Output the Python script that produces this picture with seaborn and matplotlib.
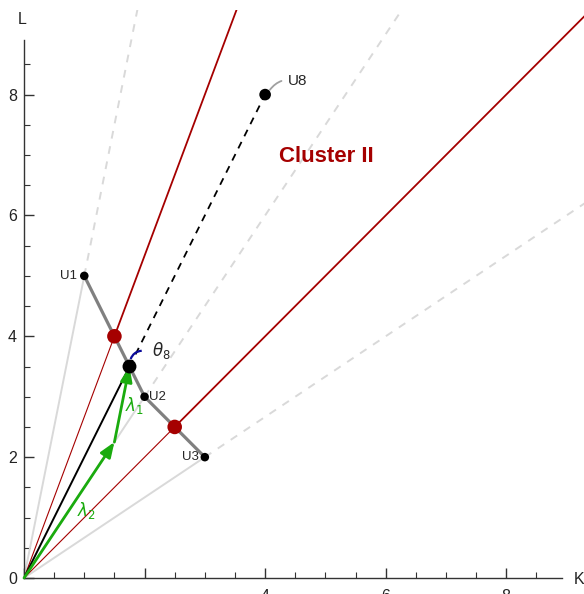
import numpy as np
import matplotlib.pyplot as plt
import seaborn as sns
from matplotlib.patches import Arc

# --- data ---
point_names = ['U1', 'U2', 'U3']
point_k = [1, 2, 3]
point_l = [5, 3, 2]
u8_k, u8_l = 4, 8
target_k, target_l = 1.75, 3.5          # projection of U8 on the U-frontier
cluster_k = [1.5, 2.5]                   # red cluster boundary points
cluster_l = [4.0, 2.5]
lambda2_end = (1.5, 2.25)                # 0.75 * U2
x_ticks = [0, 2, 4, 6, 8]
x_tick_labels = ['', '', '4', '6', '8']
y_ticks = [0, 2, 4, 6, 8]
y_tick_labels = ['0', '2', '4', '6', '8']

XMAX, YMAX = 9.29, 9.4
light = '#d9d9d9'
dark_red = '#a50000'
green = '#1aab0e'
axis_col = '#333333'

sns.set_style("ticks")
plt.rcParams['font.family'] = ['Liberation Sans', 'DejaVu Sans']

fig = plt.figure(figsize=(5.84, 5.94), dpi=100)
ax = fig.add_axes([24 / 584, 16 / 594, 560 / 584, 568 / 594])
ax.set_xlim(0, XMAX)
ax.set_ylim(0, YMAX)


def ray(k, l, t0, t1):
    return [k * t0, k * t1], [l * t0, l * t1]


# light gray rays through U1..U3: solid up to the point, dashed beyond
for k, l in zip(point_k, point_l):
    xs, ys = ray(k, l, 0, 1)
    ax.plot(xs, ys, color=light, lw=1.4, zorder=1)
    xs, ys = ray(k, l, 1, 4)
    ax.plot(xs, ys, color=light, lw=1.4, ls=(0, (4, 4)), zorder=1)

# red cluster boundaries
for k, l in zip(cluster_k, cluster_l):
    xs, ys = ray(k, l, 0, 1)
    ax.plot(xs, ys, color=dark_red, lw=0.8, zorder=2)
    xs, ys = ray(k, l, 1, 5)
    ax.plot(xs, ys, color=dark_red, lw=1.3, zorder=2)

# black ray towards U8
ax.plot([0, target_k], [0, target_l], color='black', lw=1.4, zorder=3)
ax.plot([target_k, u8_k], [target_l, u8_l], color='black', lw=1.3,
        ls=(0, (4, 3.5)), zorder=3)

# frontier U1-U2-U3
sns.lineplot(x=point_k, y=point_l, sort=False, color='#808080', lw=2.3,
             ax=ax, zorder=4)

# green decomposition arrows
arrow = dict(arrowstyle='-|>,head_length=0.9,head_width=0.35',
             color=green, lw=2, shrinkA=0, shrinkB=0)
ax.annotate('', xy=lambda2_end, xytext=(0, 0), arrowprops=arrow, zorder=5)
ax.annotate('', xy=(target_k, target_l), xytext=lambda2_end,
            arrowprops=arrow, zorder=5)

# theta arc
ax.add_patch(Arc((1.96, 3.56), 0.4, 0.4, theta1=92, theta2=162,
                 color='#0a0a9a', lw=1.6, zorder=6))

# points
sns.scatterplot(x=point_k, y=point_l, color='black', s=38, edgecolor='none',
                ax=ax, zorder=7)
sns.scatterplot(x=[u8_k], y=[u8_l], color='black', s=70, edgecolor='none',
                ax=ax, zorder=7)
sns.scatterplot(x=[target_k], y=[target_l], color='black', s=100,
                edgecolor='none', ax=ax, zorder=7)
sns.scatterplot(x=cluster_k, y=cluster_l, color=dark_red, s=110,
                edgecolor='none', ax=ax, zorder=7)

# labels
ax.text(0.88, 5.0, 'U1', fontsize=9.5, ha='right', va='center')
ax.text(2.08, 3.0, 'U2', fontsize=9.5, ha='left', va='center')
ax.text(2.9, 2.0, 'U3', fontsize=9.5, ha='right', va='center')
ax.annotate('U8', xy=(u8_k + 0.08, u8_l + 0.08), xytext=(4.37, 8.22),
            fontsize=11, ha='left', va='center',
            arrowprops=dict(arrowstyle='-', color='#a0a0a0', lw=1.3,
                            shrinkA=2, shrinkB=0,
                            connectionstyle='arc3,rad=0.35'))
ax.text(5.02, 6.97, 'Cluster II', fontsize=16, fontweight='bold',
        color=dark_red, ha='center', va='center')
ax.text(2.12, 3.76, r'$\theta_8$', fontsize=12, ha='left', va='center')
ax.text(1.84, 2.86, r'$\lambda_1$', fontsize=12, color=green,
        ha='center', va='center')
ax.text(1.04, 1.12, r'$\lambda_2$', fontsize=12, color=green,
        ha='center', va='center')

# Mathematica-style axes
for side in ['top', 'right']:
    ax.spines[side].set_visible(False)
ax.spines['left'].set_bounds(0, 8.9)
ax.spines['bottom'].set_bounds(0, 8.93)
for side in ['left', 'bottom']:
    ax.spines[side].set_color(axis_col)
    ax.spines[side].set_linewidth(1.0)
ax.set_xticks(x_ticks)
ax.set_xticklabels(x_tick_labels)
ax.set_yticks(y_ticks)
ax.set_yticklabels(y_tick_labels)
ax.set_xticks(np.arange(0.5, 9, 0.5), minor=True)
ax.set_yticks(np.arange(0.5, 9, 0.5), minor=True)
ax.tick_params(which='both', bottom=True, left=True, top=False, right=False)
ax.tick_params(which='major', direction='in', length=7, width=1,
               color=axis_col, labelsize=11.5, labelcolor='#222222', pad=8)
ax.tick_params(which='minor', direction='in', length=4, width=0.8,
               color=axis_col)
ax.tick_params(axis='y', which='major', pad=5)
ax.set_facecolor('white')

fig.text(22 / 584, 1 - 20 / 594, 'L', fontsize=11.5, ha='center', va='center',
         color='#222222')
fig.text(579 / 584, 1 - 579 / 594, 'K', fontsize=11.5, ha='center', va='center',
         color='#222222')

fig.savefig('out.png', dpi=100)
